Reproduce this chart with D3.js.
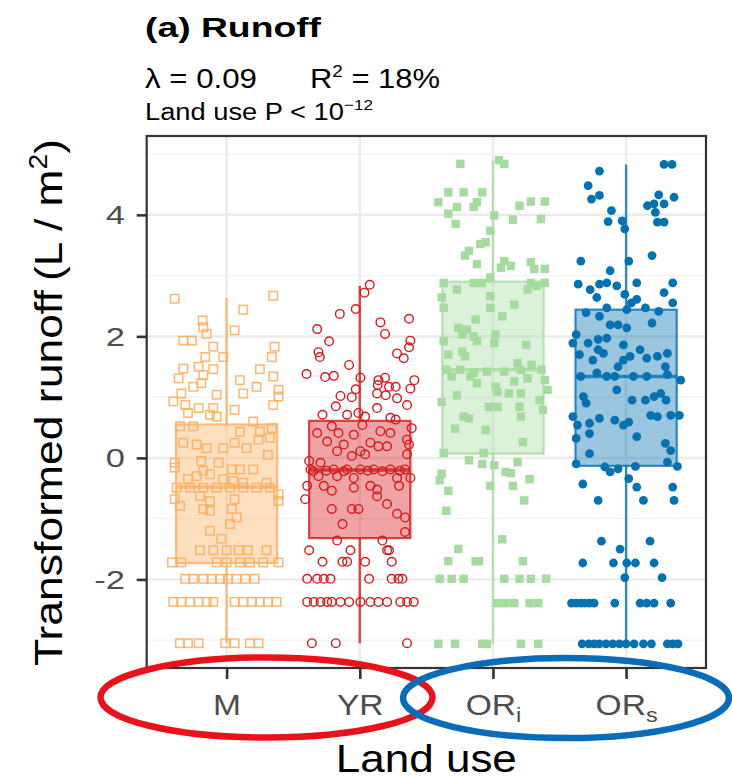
<!DOCTYPE html>
<html>
<head>
<meta charset="utf-8">
<script src="https://cdn.jsdelivr.net/npm/d3@7"></script>
<style>
body{margin:0;background:#fff;}
svg{display:block;font-family:"Liberation Sans",Arial,Helvetica,sans-serif;}
</style>
</head>
<body>
<svg id="chart" width="732" height="780"></svg>
<script>
var groups = ["M","YR","ORi","ORs"];
var xMain = ["M","YR","OR","OR"];
var xSub = ["","","i","s"];
var colors = ["#FDAE61","#D7191C","#A6DBA0","#0571B0"];
var shapes = ["openSquare","openCircle","square","circle"];
// box stats
var whiskLo = [-3.05,-3.05,-3.06,-3.06];
var q1 = [-1.73,-1.32,0.07,-0.13];
var med = [-0.48,-0.20,1.45,1.34];
var q3 = [0.55,0.61,2.90,2.44];
var whiskHi = [2.64,2.83,4.90,4.83];
var yTicks = [-2,0,2,4];
var yMinor = [-3,-1,1,3,5];

// jittered points: [offset in category widths, transformed runoff]
var mPts = [[-0.39,2.62],[0.35,2.67],[0.125,2.44],[-0.18,2.26],[-0.175,2.15],[0.06,2.10],[-0.325,1.93],[-0.26,1.93],[-0.15,2.04],[0.36,1.83],[-0.10,1.83],[0.34,1.66],[-0.16,1.66],[-0.025,1.66],[-0.21,1.50],[-0.325,1.47],[-0.10,1.46],[0.25,1.46],[-0.36,1.31],[-0.175,1.36],[0.35,1.34],[-0.25,1.17],[-0.19,1.23],[0.10,1.28],[0.225,1.17],[0.39,1.12],[-0.075,1.04],[0.125,1.06],[0.39,1.01],[-0.34,1.06],[-0.40,0.93],[-0.31,0.87],[-0.21,0.82],[-0.10,0.82],[-0.29,0.74],[0.06,0.79],[0.35,0.87],[-0.125,0.71],[-0.075,0.68],
[-0.35,0.52],[-0.25,0.52],[0.20,0.60],[0.34,0.49],[0.10,0.43],[0.25,0.43],[-0.325,0.25],[-0.225,0.22],[-0.15,0.16],[-0.025,0.16],[0.06,0.25],[0.15,0.16],[0.24,0.30],[0.325,0.33],[0.31,0.05],[-0.39,-0.08],[-0.19,-0.05],[-0.06,-0.08],[-0.39,-0.16],[-0.175,-0.21],[0.04,-0.19],[0.10,-0.19],[0.20,-0.19],[-0.225,-0.30],[-0.125,-0.27],[-0.025,-0.35],[0.05,-0.38],[0.125,-0.41],[0.30,-0.41],[-0.29,-0.35],
[-0.375,-0.49],[-0.275,-0.49],[-0.175,-0.49],[-0.075,-0.49],[0.025,-0.49],[0.125,-0.49],[0.225,-0.49],[0.325,-0.49],
[0.39,-0.60],[-0.39,-0.68],[-0.20,-0.63],[-0.125,-0.71],[-0.35,-0.79],[-0.175,-0.84],[0.06,-0.68],[-0.125,-0.87],[0.04,-0.84],[0.39,-0.71],[0.075,-0.98],[0.025,-1.09],[-0.125,-1.20],[-0.04,-1.33],
[-0.20,-1.52],[-0.10,-1.52],[0,-1.52],[0.09,-1.52],[0.16,-1.52],[0.30,-1.52],
[-0.41,-1.72],[-0.34,-1.72],[-0.075,-1.72],[0,-1.72],[0.10,-1.72],[0.175,-1.72],[0.275,-1.72],[0.39,-1.72],
[-0.31,-1.99],[-0.25,-1.99],[-0.175,-1.99],[-0.11,-1.99],[-0.05,-1.99],[0.01,-1.99],[0.075,-1.99],[0.14,-1.99],[0.21,-1.99],
[-0.40,-2.37],[-0.34,-2.37],[-0.275,-2.37],[-0.21,-2.37],[-0.15,-2.37],[-0.10,-2.37],[0.06,-2.37],[0.125,-2.37],[0.19,-2.37],[0.25,-2.37],[0.31,-2.37],[0.375,-2.37],
[-0.35,-3.05],[-0.29,-3.05],[-0.21,-3.05],[-0.01,-3.05],[0.06,-3.05],[0.175,-3.05],[0.24,-3.05]];

var yrPts = [[0.075,2.85],[0.035,2.72],[-0.03,2.45],[-0.15,2.37],[0.37,2.29],[0.155,2.23],[-0.32,2.12],[0.19,2.04],[-0.23,1.92],[0.38,1.93],[0.37,1.82],[-0.31,1.74],[-0.30,1.66],[0.28,1.72],[0.33,1.64],[-0.08,1.53],[-0.40,1.38],[-0.26,1.33],[-0.195,1.35],[0.005,1.32],[0.14,1.28],[0.19,1.32],[0.41,1.28],[0.135,1.20],[0.22,1.17],[0.27,1.17],[0.38,1.14],[-0.03,1.13],[-0.145,1.02],[-0.06,1.00],[0.13,1.06],[0.195,1.03],[0.28,0.98],[0.355,0.87],[-0.18,0.85],[-0.095,0.71],[0.13,0.82],[-0.28,0.71],[-0.01,0.74],[0.04,0.68],[0.23,0.66],[0.27,0.63],
[-0.21,0.52],[0.02,0.54],[0.39,0.49],[-0.32,0.41],[-0.16,0.41],[-0.045,0.38],[0.155,0.44],[0.23,0.41],[-0.245,0.27],[-0.12,0.22],[0.08,0.25],[0.14,0.19],[0.205,0.19],[0.355,0.30],[0.37,0.22],[0.005,0.11],[-0.06,0.03],[0.04,0.06],[-0.17,0.11],[0.355,0.06],[-0.38,-0.05],[-0.295,-0.08],
[-0.35,-0.22],[-0.25,-0.21],[-0.12,-0.22],[0.06,-0.21],[0.17,-0.22],[0.30,-0.21],
[-0.37,-0.19],[-0.195,-0.19],[-0.095,-0.19],[0.005,-0.19],[0.105,-0.19],[0.23,-0.19],[0.34,-0.19],
[-0.31,-0.30],[-0.17,-0.30],[-0.045,-0.33],[0.28,-0.33],[0.38,-0.33],[-0.27,-0.46],[-0.21,-0.54],[-0.395,-0.46],[-0.045,-0.49],[0.08,-0.46],[0.13,-0.52],[0.295,-0.46],[-0.41,-0.68],[0.13,-0.63],[0.205,-0.76],[-0.21,-0.84],[-0.06,-0.84],[-0.01,-0.84],[0.28,-0.92],[0.34,-0.98],[-0.13,-1.09],[0.34,-1.22],[-0.17,-1.36],[0.17,-1.36],
[-0.38,-1.52],[-0.07,-1.52],[0.205,-1.52],[0.22,-1.52],
[-0.28,-1.71],[-0.13,-1.71],[-0.095,-1.71],[0.04,-1.71],[0.24,-1.71],
[-0.395,-1.99],[-0.32,-1.99],[-0.27,-1.99],[-0.22,-1.99],[0.07,-1.99],[0.24,-1.99],[0.29,-1.99],[0.32,-1.99],
[-0.395,-2.37],[-0.345,-2.37],[-0.295,-2.37],[-0.245,-2.37],[-0.21,-2.37],[-0.145,-2.37],[-0.08,-2.37],[0.005,-2.37],[0.08,-2.37],[0.14,-2.37],[0.205,-2.37],[0.305,-2.37],[0.355,-2.37],[0.405,-2.37],
[-0.36,-3.05],[-0.18,-3.05],[0.355,-3.05]];

var oriPts = [[-0.245,4.84],[0.045,4.90],[0.085,4.84],[-0.335,4.37],[-0.22,4.37],[-0.08,4.37],[-0.41,4.21],[-0.27,4.13],[-0.12,4.21],[-0.145,4.13],[0.20,4.15],[0.285,4.22],[0.39,4.22],[-0.335,4.02],[-0.28,3.85],[0.01,3.99],[0.15,3.92],[0.36,3.93],[-0.02,3.74],[-0.055,3.55],[-0.095,3.52],[-0.18,3.41],[-0.21,3.33],[-0.12,3.19],[0.085,3.24],[0.06,3.13],[0.135,3.16],[0.285,3.22],[0.31,3.11],[0.39,3.11],
[-0.37,2.88],[-0.145,2.88],[-0.08,2.88],[-0.02,2.97],[0.285,2.88],[0.39,2.88],[-0.385,2.64],[-0.27,2.77],[-0.02,2.66],[-0.02,2.47],[0.26,2.77],[0.33,2.83],[0.16,2.52],[-0.37,2.47],[0.07,2.33],[-0.13,2.28],[-0.26,2.14],[-0.195,2.11],[-0.23,2.03],[-0.145,2.00],[-0.12,1.92],[0.02,2.03],[0.01,1.89],[-0.37,1.92],[0.25,1.86],[-0.23,1.75],[-0.21,1.67],[-0.335,1.70],
[-0.35,1.45],[-0.245,1.45],[-0.145,1.40],[-0.045,1.42],[0.085,1.42],[0.185,1.56],[0.21,1.45],[0.29,1.53],[0.365,1.45],
[-0.31,1.34],[-0.17,1.34],[-0.12,1.23],[0.02,1.17],[0.16,1.26],[0.26,1.31],[0.39,1.28],[0.41,1.12],[-0.27,1.03],[-0.385,0.92],[0.035,1.09],[0.12,1.06],[0.21,1.06],[0.35,0.95],[-0.03,0.84],[0.035,0.84],[0.20,0.84],[0.375,0.79],[0.21,0.68],[-0.22,0.68],[-0.18,0.65],[-0.285,0.48],[-0.055,0.46],[0.225,0.26],
[-0.37,0.08],[-0.07,0.08],[-0.18,-0.04],[-0.08,-0.10],[0.01,-0.12],[0.185,-0.07],[0.095,-0.23],[0.135,-0.25],[-0.385,-0.26],[-0.40,-0.37],[-0.335,-0.54],[-0.02,-0.46],[0.15,-0.46],[0.275,-0.35],[0.235,-0.70],[-0.35,-0.87],[0.07,-1.34],[-0.26,-1.50],
[-0.335,-1.70],[-0.13,-1.70],[-0.105,-1.70],[0.225,-1.70],
[-0.40,-1.99],[-0.31,-1.99],[-0.22,-1.99],[0.085,-1.99],[0.20,-1.99],[0.285,-1.99],[0.40,-1.99],
[0.035,-2.39],[0.095,-2.39],[0.16,-2.39],[0.275,-2.39],[0.34,-2.39],
[-0.41,-3.06],[-0.285,-3.06],[-0.08,-3.06],[-0.045,-3.06],[0.21,-3.06],[0.34,-3.06]];

var orsPts = [[0.285,4.83],[0.345,4.83],[-0.20,4.72],[-0.285,4.48],[-0.26,4.26],[-0.20,4.32],[0.245,4.33],[0.36,4.29],[0.16,4.15],[0.21,4.18],[0.285,4.18],[-0.11,4.07],[0.22,4.04],[-0.135,3.89],[-0.03,3.90],[-0.01,3.77],[0.235,3.88],[0.285,3.88],[-0.34,3.24],[0.02,3.24],[0.195,3.33],[-0.12,3.08],[-0.36,2.86],[-0.27,2.77],[-0.20,2.86],[-0.145,2.88],[-0.07,2.83],[0.08,2.88],[0.35,2.88],[0.285,2.72],[-0.01,2.69],[-0.22,2.64],[0.08,2.61],[0.04,2.55],[0.35,2.55],[-0.145,2.47],[0.145,2.47],[0.245,2.41],
[-0.30,2.39],[-0.20,2.33],[0.005,2.44],[-0.12,2.19],[-0.06,2.19],[0.195,2.22],[0.005,2.14],[-0.375,2.03],[-0.40,1.89],[-0.285,1.89],[-0.21,1.95],[-0.145,1.97],[-0.02,1.86],[-0.35,1.70],[-0.21,1.78],[-0.17,1.72],[-0.25,1.61],[-0.02,1.61],[0.03,1.67],[0.105,1.78],[0.155,1.64],[0.235,1.67],[0.31,1.72],[0.295,1.50],[-0.06,1.50],
[-0.34,1.34],[-0.22,1.40],[-0.145,1.34],[-0.085,1.34],[0.055,1.34],[0.155,1.34],[0.31,1.37],[0.41,1.28],
[-0.32,1.01],[-0.30,0.90],[0.045,0.95],[-0.07,1.12],[0.145,0.95],[0.21,1.01],[0.26,1.06],[0.30,0.95],[-0.40,0.68],[-0.365,0.54],[-0.275,0.57],[-0.20,0.65],[-0.085,0.62],[-0.02,0.54],[0.02,0.59],[0.185,0.70],[0.235,0.68],[0.335,0.70],[0.40,0.70],[-0.375,0.32],[-0.275,0.40],[0.08,0.35],[0.295,0.24],[0.335,0.12],[-0.275,0.07],[-0.375,-0.10],[0.31,-0.07],[0.385,-0.14],
[-0.16,-0.15],[-0.12,-0.23],[-0.06,-0.18],[0.07,-0.14],[0.02,-0.34],[0.08,-0.48],[-0.325,-0.43],[0.35,-0.48],[0.36,-0.70],[-0.21,-0.70],[0.13,-0.70],[-0.185,-1.37],[0.18,-1.37],[-0.045,-1.50],
[-0.325,-1.73],[-0.095,-1.73],[0.005,-1.73],[0.07,-1.73],[0.21,-1.73],
[-0.01,-1.97],[0.27,-1.97],
[-0.41,-2.39],[-0.375,-2.39],[-0.34,-2.39],[-0.31,-2.39],[-0.275,-2.39],[-0.24,-2.39],[-0.085,-2.39],[0.105,-2.39],[0.155,-2.39],[0.21,-2.39],[0.335,-2.39],
[-0.33,-3.06],[-0.28,-3.06],[-0.24,-3.06],[-0.20,-3.06],[-0.15,-3.06],[-0.10,-3.06],[-0.05,-3.06],[0,-3.06],[0.06,-3.06],[0.13,-3.06],[0.19,-3.06],[0.31,-3.06],[0.35,-3.06],[0.39,-3.06]];
var allPts = [mPts, yrPts, oriPts, orsPts];

var svg = d3.select("#chart");
var pL = 146.7, pR = 706, pT = 136, pB = 668;

var x = d3.scalePoint().domain(groups).range([pL, pR]).padding(0.6);
var step = x.step();
var y = d3.scaleLinear().domain([-3.458, 5.298]).range([pB, pT]);

// stretch a text horizontally so it fills w pixels
function fit(sel, tx, ty, w, rot) {
  var bw = sel.node().getBBox().width;
  sel.attr("transform", "translate(" + tx + "," + ty + ")" + (rot ? " rotate(" + rot + ")" : "") + " scale(" + (w / bw) + ",1)");
}

// grid
var grid = svg.append("g");
grid.selectAll(".minor").data(yMinor).enter().append("line")
  .attr("x1", pL).attr("x2", pR)
  .attr("y1", function(d){ return y(d); }).attr("y2", function(d){ return y(d); })
  .attr("stroke", "#F2F2F2").attr("stroke-width", 1.3);
grid.selectAll(".major").data(yTicks).enter().append("line")
  .attr("x1", pL).attr("x2", pR)
  .attr("y1", function(d){ return y(d); }).attr("y2", function(d){ return y(d); })
  .attr("stroke", "#EBEBEB").attr("stroke-width", 2.5);
grid.selectAll(".vert").data(groups).enter().append("line")
  .attr("y1", pT).attr("y2", pB)
  .attr("x1", function(d){ return x(d); }).attr("x2", function(d){ return x(d); })
  .attr("stroke", "#EBEBEB").attr("stroke-width", 2.5);

// boxes
var bw = 0.76 * step;
groups.forEach(function(g, i){
  var cx = x(g), c = colors[i];
  var b = svg.append("g").attr("stroke", c).attr("stroke-opacity", 0.8);
  b.append("line").attr("x1", cx).attr("x2", cx).attr("y1", y(whiskLo[i])).attr("y2", y(q1[i])).attr("stroke-width", 2.4);
  b.append("line").attr("x1", cx).attr("x2", cx).attr("y1", y(q3[i])).attr("y2", y(whiskHi[i])).attr("stroke-width", 2.4);
  b.append("rect").attr("x", cx - bw/2).attr("width", bw)
    .attr("y", y(q3[i])).attr("height", y(q1[i]) - y(q3[i]))
    .attr("fill", c).attr("fill-opacity", 0.4).attr("stroke-width", 2.2);
  b.append("line").attr("x1", cx - bw/2).attr("x2", cx + bw/2)
    .attr("y1", y(med[i])).attr("y2", y(med[i])).attr("stroke-width", 3.6);
});

// jittered points
groups.forEach(function(g, i){
  var c = colors[i], sh = shapes[i];
  var pg = svg.append("g");
  allPts[i].forEach(function(p){
    var px = x(g) + p[0]*step, py = y(p[1]);
    if (sh == "openSquare") {
      pg.append("rect").attr("x", px-4.2).attr("y", py-4.2).attr("width", 8.4).attr("height", 8.4)
        .attr("fill", "none").attr("stroke", c).attr("stroke-width", 1.5).attr("stroke-opacity", 0.9);
    } else if (sh == "openCircle") {
      pg.append("circle").attr("cx", px).attr("cy", py).attr("r", 4.3)
        .attr("fill", "none").attr("stroke", c).attr("stroke-width", 1.4);
    } else if (sh == "square") {
      pg.append("rect").attr("x", px-4.2).attr("y", py-4.2).attr("width", 8.4).attr("height", 8.4)
        .attr("fill", c);
    } else {
      pg.append("circle").attr("cx", px).attr("cy", py).attr("r", 4.4).attr("fill", c);
    }
  });
});

// panel border
svg.append("rect").attr("x", pL).attr("y", pT).attr("width", pR-pL).attr("height", pB-pT)
  .attr("fill", "none").attr("stroke", "#333").attr("stroke-width", 2.2);

// y axis
var yg = svg.append("g").attr("transform", "translate(" + pL + ",0)")
  .call(d3.axisLeft(y).tickValues(yTicks).tickSize(10).tickFormat(function(d){ return d < 0 ? "-" + Math.abs(d) : d; }))
  .attr("font-family", null).attr("font-size", null);
yg.select(".domain").remove();
yg.selectAll(".tick line").attr("stroke", "#333").attr("stroke-width", 2.6);
yg.selectAll(".tick text").attr("x", 0).attr("dy", "0.36em").attr("font-size", 25)
  .attr("fill", "#4D4D4D").attr("transform", "translate(-21.7,0) scale(1.38,1)");

// x axis
var xg = svg.append("g").attr("transform", "translate(0," + pB + ")")
  .call(d3.axisBottom(x).tickSize(11))
  .attr("font-family", null).attr("font-size", null);
xg.select(".domain").remove();
xg.selectAll(".tick line").attr("stroke", "#333").attr("stroke-width", 2.6);
xg.selectAll(".tick text").each(function(d){
  var i = groups.indexOf(d);
  var t = d3.select(this).text(null).attr("y", 47).attr("dy", null)
    .attr("font-size", 30).attr("fill", "#4D4D4D").attr("transform", "scale(1.12,1)");
  t.append("tspan").text(xMain[i]);
  if (xSub[i]) t.append("tspan").attr("font-size", 21).attr("dy", 7).text(xSub[i]);
});

// axis titles
var xt = svg.append("text").attr("font-size", 38).attr("text-anchor", "middle").text("Land use");
fit(xt, (pL + pR)/2, 772, 181);

var yt1 = svg.append("text").attr("font-size", 39).text("Transformed runoff");
fit(yt1, 62, 666, 376, -90);
var yt2 = svg.append("text").attr("font-size", 39);
yt2.append("tspan").text("(L / m");
yt2.append("tspan").attr("font-size", 25).attr("dy", -15).text("2");
yt2.append("tspan").attr("dy", 15).text(")");
fit(yt2, 62, 281, 142, -90);

// title and annotations
var tt = svg.append("text").attr("font-size", 28).attr("font-weight", "bold").text("(a) Runoff");
fit(tt, 145, 37, 177);

var l1 = svg.append("text").attr("font-size", 28).text("λ = 0.09");
fit(l1, 145, 88, 112);
var l2 = svg.append("text").attr("font-size", 28);
l2.append("tspan").text("R");
l2.append("tspan").attr("font-size", 17).attr("dy", -11).text("2");
l2.append("tspan").attr("dy", 11).text(" = 18%");
fit(l2, 310, 88, 130);

var l3 = svg.append("text").attr("font-size", 24);
l3.append("tspan").text("Land use P < 10");
l3.append("tspan").attr("font-size", 15).attr("dy", -10).text("−12");
fit(l3, 145, 120, 228);

// hand-drawn highlight ellipses
svg.append("ellipse").attr("cx", 266.5).attr("cy", 697.5).attr("rx", 166).attr("ry", 40)
  .attr("fill", "none").attr("stroke", "#E8121B").attr("stroke-width", 6.5);
svg.append("ellipse").attr("cx", 566).attr("cy", 698).attr("rx", 163).attr("ry", 40)
  .attr("fill", "none").attr("stroke", "#0A6BB8").attr("stroke-width", 6.5);
</script>
</body>
</html>
